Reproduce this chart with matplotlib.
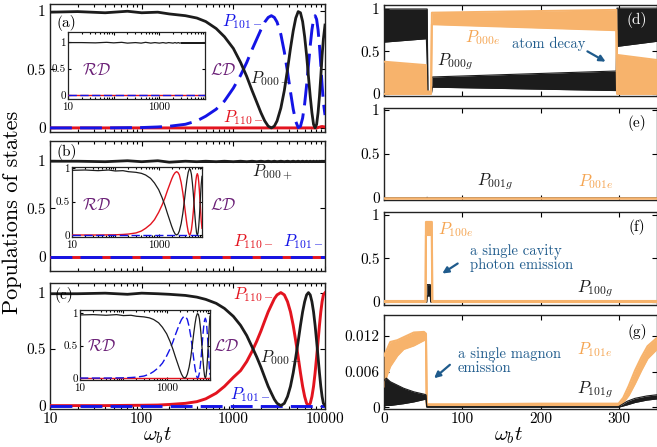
import matplotlib
matplotlib.use('Agg')
import matplotlib.pyplot as plt
import numpy as np
from matplotlib.ticker import LogLocator, NullFormatter

plt.rcParams['font.family'] = ['cmr10', 'DejaVu Serif']
plt.rcParams['mathtext.fontset'] = 'cm'
plt.rcParams['axes.formatter.use_mathtext'] = True
plt.rcParams['axes.unicode_minus'] = False

W, H = 657, 447

# ------------------------------------------------------------------ data
# left column: time grid (omega_b t, log axis)
T_LEFT = [10, 20, 40, 70, 100, 150, 200, 300, 400, 500, 650, 800, 1000, 1200,
          1400, 1600, 1800, 2000, 2200, 2400, 2600, 2800, 3000, 3300, 3600,
          3900, 4200, 4500, 4800, 5100, 5400, 5700, 6000, 6300, 6600, 6900,
          7200, 7500, 7800, 8100, 8400, 8700, 9000, 9300, 9600, 10000]

# panel (a)
A_P000 = [0.99, 0.995, 0.985, 0.998, 0.985, 0.99, 0.975, 0.96, 0.94, 0.91,
          0.85, 0.78, 0.68, 0.56, 0.44, 0.32, 0.22, 0.13, 0.06, 0.015,
          0.0, 0.015, 0.06, 0.17, 0.32, 0.50, 0.68, 0.83, 0.94, 0.995,
          0.985, 0.91, 0.78, 0.62, 0.44, 0.27, 0.13, 0.03, 0.0, 0.03,
          0.13, 0.27, 0.44, 0.62, 0.76, 0.88]
A_P101 = [0, 0, 0, 0.002, 0.003, 0.008, 0.014, 0.031, 0.06, 0.1,
          0.16, 0.23, 0.34, 0.45, 0.56, 0.67, 0.76, 0.84, 0.905, 0.945,
          0.96, 0.945, 0.905, 0.8, 0.65, 0.48, 0.31, 0.16, 0.055, 0.003,
          0.014, 0.084, 0.207, 0.365, 0.538, 0.703, 0.839, 0.929, 0.96, 0.929,
          0.839, 0.703, 0.538, 0.365, 0.22, 0.11]
A_P110 = [0.0] * 40 + [0.003, 0.006, 0.01, 0.012, 0.01, 0.008]
A_IN_P000 = [0.99, 0.99, 0.985, 0.995, 0.985, 0.995, 0.98, 0.99, 0.98, 0.995,
             0.98, 0.99, 0.98, 0.99, 0.98, 0.99, 0.985, 0.98, 0.99, 0.98,
             0.99, 0.98, 0.985, 0.98, 0.99, 0.98, 0.985, 0.98, 0.99, 0.98,
             0.985, 0.98, 0.985, 0.98, 0.985, 0.98, 0.985, 0.98, 0.985, 0.98,
             0.985, 0.98, 0.985, 0.98, 0.985, 0.98]
A_IN_ZERO = [0.0] * 46
A_IN_BAND_T = [3000, 10000]
A_IN_BAND_LO = [0.965, 0.965]
A_IN_BAND_HI = [0.995, 0.995]

# panel (b)
B_P000 = [0.99, 0.99, 0.985, 0.995, 0.985, 0.995, 0.98, 0.99, 0.985, 0.99,
          0.985, 0.99, 0.985, 0.99, 0.985, 0.99, 0.985, 0.99, 0.985, 0.99,
          0.985, 0.99, 0.985, 0.99, 0.985, 0.99, 0.985, 0.99, 0.985, 0.99,
          0.985, 0.99, 0.985, 0.99, 0.985, 0.99, 0.985, 0.99, 0.985, 0.99,
          0.985, 0.99, 0.985, 0.99, 0.985, 0.99]
B_BAND_T = [400, 10000]
B_BAND_LO = [0.972, 0.972]
B_BAND_HI = [0.997, 0.997]
B_P110 = [0.0] * 46
B_P101 = [0.0] * 46
B_IN_P000 = [0.97, 0.975, 0.965, 0.975, 0.96, 0.965, 0.95, 0.94, 0.925, 0.9,
             0.85, 0.78, 0.68, 0.56, 0.44, 0.32, 0.22, 0.13, 0.06, 0.015,
             0.0, 0.015, 0.06, 0.17, 0.32, 0.50, 0.68, 0.83, 0.94, 0.99,
             0.98, 0.91, 0.78, 0.62, 0.44, 0.27, 0.13, 0.03, 0.0, 0.03,
             0.13, 0.27, 0.44, 0.62, 0.76, 0.88]
B_IN_P110 = [0, 0, 0, 0.002, 0.003, 0.008, 0.014, 0.031, 0.06, 0.1,
             0.16, 0.23, 0.34, 0.45, 0.56, 0.67, 0.76, 0.84, 0.9, 0.935,
             0.95, 0.935, 0.9, 0.79, 0.64, 0.47, 0.3, 0.155, 0.05, 0.003,
             0.014, 0.08, 0.2, 0.35, 0.52, 0.68, 0.81, 0.89, 0.92, 0.89,
             0.8, 0.67, 0.51, 0.35, 0.21, 0.1]
B_IN_P101 = [0.0] * 46

# panel (c)
C_P000 = [0.99, 0.99, 0.995, 0.985, 0.995, 0.99, 0.985, 0.975, 0.96, 0.94,
          0.905, 0.86, 0.79, 0.71, 0.62, 0.52, 0.43, 0.34, 0.25, 0.17,
          0.11, 0.056, 0.02, 0.0, 0.02, 0.08, 0.17, 0.29, 0.43, 0.57,
          0.71, 0.83, 0.92, 0.98, 1.0, 0.98, 0.92, 0.83, 0.71, 0.57,
          0.43, 0.29, 0.17, 0.08, 0.02, 0.002]
C_P110 = [0, 0, 0, 0.002, 0.003, 0.005, 0.01, 0.02, 0.035, 0.06,
          0.11, 0.17, 0.25, 0.31, 0.39, 0.48, 0.57, 0.66, 0.75, 0.83,
          0.89, 0.945, 0.98, 1.0, 0.98, 0.92, 0.83, 0.71, 0.57, 0.43,
          0.29, 0.17, 0.08, 0.02, 0.0, 0.02, 0.08, 0.17, 0.29, 0.43,
          0.57, 0.71, 0.83, 0.92, 0.98, 0.998]
C_P101 = [0.0] * 46
C_IN_P000 = [0.97, 0.975, 0.965, 0.975, 0.96, 0.965, 0.95, 0.94, 0.925, 0.9,
             0.85, 0.78, 0.68, 0.56, 0.44, 0.32, 0.22, 0.13, 0.06, 0.015,
             0.0, 0.015, 0.06, 0.17, 0.32, 0.50, 0.68, 0.83, 0.94, 0.99,
             0.98, 0.91, 0.78, 0.62, 0.44, 0.27, 0.13, 0.03, 0.0, 0.03,
             0.13, 0.27, 0.44, 0.62, 0.8, 0.95]
C_IN_P101 = [0, 0, 0, 0.002, 0.003, 0.008, 0.014, 0.031, 0.06, 0.1,
             0.16, 0.23, 0.34, 0.45, 0.56, 0.67, 0.76, 0.84, 0.9, 0.935,
             0.95, 0.935, 0.9, 0.79, 0.64, 0.47, 0.3, 0.155, 0.05, 0.003,
             0.014, 0.08, 0.2, 0.35, 0.52, 0.68, 0.81, 0.89, 0.92, 0.89,
             0.8, 0.67, 0.51, 0.35, 0.18, 0.05]
C_IN_P110 = [0.0] * 46

# right column (linear omega_b t): band envelopes of fast oscillations
D_T_G = [0, 54, 55, 56, 60.5, 61.5, 296, 297, 348]
D_G_LO = [0.61, 0.65, 0.36, 0.01, 0.01, 0.08, 0.04, 0.56, 0.62]
D_G_HI = [1.0, 1.0, 1.0, 0.02, 0.02, 0.20, 0.27, 1.01, 1.01]
D_T_E = [0, 53.5, 54, 60, 61, 296, 297, 348]
D_E_LO = [0, 0, 0, 0, 0.82, 0.75, 0, 0]
D_E_HI = [0.38, 0.34, 0.03, 0.03, 0.957, 0.99, 0.46, 0.40]

E_T = [0, 54, 55, 56, 348]
E_G = [0.0, 0.0, 0.006, 0.0, 0.0]
E_E = [0.003, 0.003, 0.003, 0.003, 0.003]

F_T_E = [0, 53, 53.5, 61, 61.5, 348]
F_E_LO = [0, 0, 0.77, 0.77, 0, 0]
F_E_HI = [0.012, 0.012, 0.92, 0.92, 0.012, 0.012]
F_T_G = [0, 54.5, 55, 59, 59.5, 298, 300, 302, 348]
F_G_LO = [0, 0, 0.07, 0.07, 0, 0, 0, 0, 0]
F_G_HI = [0.006, 0.006, 0.2, 0.2, 0.006, 0.006, 0.015, 0.006, 0.006]

G_T_E = [0, 4, 8, 17, 25, 38, 51, 53.5, 54.5, 100, 200, 299, 305, 312, 320,
         328, 336, 348]
G_E_LO = [0.0035, 0.0055, 0.0069, 0.0087, 0.0098, 0.0104, 0.0113, 0.0114,
          0.0002, 0.0002, 0.0003, 0.0003, 0.0008, 0.0020, 0.0040, 0.0062,
          0.0082, 0.0098]
G_E_HI = [0.0087, 0.0098, 0.0110, 0.0113, 0.0118, 0.0126, 0.0127, 0.0124,
          0.0005, 0.0005, 0.0006, 0.0006, 0.0016, 0.0036, 0.0062, 0.0084,
          0.0103, 0.0117]
G_T_G = [0, 3, 8, 25, 38, 51, 53.5, 54.5, 299, 310, 320, 335, 348]
G_G_LO = [0.0002, 0.0003, 0.0003, 0.0006, 0.0009, 0.0013, 0.0014, 0.0, 0.0,
          0.0004, 0.0008, 0.0012, 0.0014]
G_G_HI = [0.0045, 0.0049, 0.0043, 0.0032, 0.0026, 0.0022, 0.0021, 0.0001,
          0.0001, 0.0010, 0.0015, 0.0019, 0.0021]

LEFT_XTICKS = [10, 100, 1000, 10000]
LEFT_XTICKLABELS = ['10', '100', '1000', '10000']
INSET_XTICKLABELS = ['10', '', '1000', '']
RIGHT_XTICKS = [0, 100, 200, 300]
G_YTICKS = [0, 0.006, 0.012]
G_YTICKLABELS = ['0', '0.006', '0.012']

# ------------------------------------------------------------------ style
BLACK = '#1c1c1c'
RED = '#e3141f'
BLUE = '#1414e6'
ORANGE = '#f7b36c'
ORANGE_T = '#f5a552'
NAVY = '#1f5b8c'
PURPLE = '#6b2077'
DASH = (7.5, 2.8)

fig = plt.figure(figsize=(W / 100, H / 100), dpi=100)


def add_ax(l, t, r, b, **kw):
    return fig.add_axes([l / W, 1 - b / H, (r - l) / W, (b - t) / H], **kw)


def style(ax, fs=11, major=3.5, minor=2.0):
    ax.tick_params(which='both', direction='in', top=True, right=True,
                   labelsize=fs, width=0.8, pad=3)
    ax.tick_params(which='major', length=major)
    ax.tick_params(which='minor', length=minor)
    for s in ax.spines.values():
        s.set_linewidth(1.0)
        s.set_color('#222222')


def ftext(x, y, s, **kw):
    kw.setdefault('va', 'center')
    kw.setdefault('ha', 'left')
    kw.setdefault('zorder', 30)
    fig.text(x / W, 1 - y / H, s, **kw)


def log_axis(ax, labels):
    ax.set_xscale('log')
    ax.set_xlim(10, 10000)
    ax.set_xticks(LEFT_XTICKS)
    ax.set_xticklabels(labels)
    ax.xaxis.set_minor_locator(LogLocator(base=10, subs=np.arange(2, 10), numticks=20))
    ax.xaxis.set_minor_formatter(NullFormatter())


LEFT_BOXES = [(50, 4, 325, 132), (50, 141, 325, 271), (50, 283, 325, 409)]
LEFT_YLIMS = [(-0.035, 1.06), (-0.15, 1.2), (-0.03, 1.085)]
INSET_BOXES = [(68, 32, 205, 99), (72, 167, 202, 237), (80, 310, 210, 380)]
INSET_YLIMS = [(-0.075, 1.19), (-0.03, 1.02), (-0.03, 1.046)]

main_series = [
    (A_P000, A_P110, A_P101),
    (B_P000, B_P110, B_P101),
    (C_P000, C_P110, C_P101),
]
inset_series = [
    (A_IN_P000, A_IN_ZERO, A_IN_ZERO),
    (B_IN_P000, B_IN_P110, B_IN_P101),
    (C_IN_P000, C_IN_P110, C_IN_P101),
]

for i in range(3):
    ax = add_ax(*LEFT_BOXES[i])
    style(ax)
    log_axis(ax, LEFT_XTICKLABELS if i == 2 else [])
    ax.set_ylim(*LEFT_YLIMS[i])
    ax.set_yticks([0, 0.5, 1])
    ax.set_yticklabels(['0', '0.5', '1'])
    ax.tick_params(axis='x', pad=2.5)
    p000, p110, p101 = main_series[i]
    ax.plot(T_LEFT, p110, color=RED, lw=2.1, zorder=3)
    ax.plot(T_LEFT, p101, color=BLUE, lw=2.1, dashes=DASH, zorder=4)
    ax.plot(T_LEFT, p000, color=BLACK, lw=2.0, zorder=5)
    if i == 1:
        ax.fill_between(B_BAND_T, B_BAND_LO, B_BAND_HI, color=BLACK, lw=0, zorder=5)

    ins = add_ax(*INSET_BOXES[i])
    style(ins, fs=8, major=2.5, minor=1.5)
    log_axis(ins, INSET_XTICKLABELS)
    ins.set_ylim(*INSET_YLIMS[i])
    ins.set_yticks([0, 0.5, 1])
    ins.set_yticklabels(['0', '0.5', '1'])
    ins.tick_params(axis='y', pad=1.5)
    ins.tick_params(axis='x', pad=2.5)
    q000, q110, q101 = inset_series[i]
    ins.plot(T_LEFT, q110, color=RED, lw=1.0, zorder=3)
    ins.plot(T_LEFT, q101, color=BLUE, lw=1.0, dashes=(6, 2.5), zorder=4)
    ins.plot(T_LEFT, q000, color=BLACK, lw=0.9, zorder=5)
    if i == 0:
        ins.fill_between(A_IN_BAND_T, A_IN_BAND_LO, A_IN_BAND_HI, color=BLACK, lw=0, zorder=5)
    for s in ins.spines.values():
        s.set_linewidth(0.9)

# right column
RIGHT_BOXES = [(384, 5, 657, 96), (384, 108, 657, 200), (384, 212, 657, 305), (384, 315, 657, 409)]
RIGHT_YLIMS = [(-0.024, 1.047), (-0.023, 1.023), (-0.034, 1.034), (-0.0003, 0.01555)]


def band(ax, t, lo, hi, color, lw=1.0, z=3):
    ax.fill_between(t, lo, hi, color=color, lw=0, zorder=z)
    ax.plot(t, lo, color=color, lw=lw, zorder=z)
    ax.plot(t, hi, color=color, lw=lw, zorder=z)


raxes = []
for j in range(4):
    ax = add_ax(*RIGHT_BOXES[j])
    style(ax)
    ax.set_xlim(0, 348)
    ax.set_ylim(*RIGHT_YLIMS[j])
    ax.set_xticks(RIGHT_XTICKS)
    ax.set_xticklabels([str(v) for v in RIGHT_XTICKS] if j == 3 else [])
    ax.tick_params(axis='x', pad=2.5)
    if j < 3:
        ax.set_yticks([0, 0.5, 1])
        ax.set_yticklabels(['0', '0.5', '1'])
    else:
        ax.set_yticks(G_YTICKS)
        ax.set_yticklabels(G_YTICKLABELS)
    raxes.append(ax)

axd, axe, axf, axg = raxes
band(axd, D_T_G, D_G_LO, D_G_HI, BLACK, lw=0.8, z=3)
band(axd, D_T_E, D_E_LO, D_E_HI, ORANGE, lw=1.4, z=4)
axe.plot(E_T, E_G, color=BLACK, lw=1.0, zorder=3)
axe.plot(E_T, E_E, color=ORANGE, lw=1.8, zorder=4)
band(axf, F_T_G, F_G_LO, F_G_HI, BLACK, lw=0.8, z=3)
band(axf, F_T_E, F_E_LO, F_E_HI, ORANGE, lw=1.5, z=4)
band(axg, G_T_E, G_E_LO, G_E_HI, ORANGE, lw=1.5, z=3)
band(axg, G_T_G, G_G_LO, G_G_HI, BLACK, lw=0.8, z=4)

# ------------------------------------------------------------------ texts
LFS = 12
ftext(56, 23, '(a)', fontsize=11)
ftext(222, 22, r'$P_{101-}$', color=BLUE, fontsize=LFS)
ftext(250, 79, r'$P_{000+}$', color=BLACK, fontsize=LFS)
ftext(223, 118, r'$P_{110-}$', color=RED, fontsize=LFS)
ftext(56, 152, '(b)', fontsize=11)
ftext(252, 172, r'$P_{000+}$', color=BLACK, fontsize=LFS)
ftext(233, 242, r'$P_{110-}$', color=RED, fontsize=LFS)
ftext(283, 242, r'$P_{101-}$', color=BLUE, fontsize=LFS)
ftext(54, 295, '(c)', fontsize=11)
ftext(233, 295, r'$P_{110-}$', color=RED, fontsize=LFS)
ftext(260, 358, r'$P_{000+}$', color=BLACK, fontsize=LFS)
ftext(230, 395, r'$P_{101-}$', color=BLUE, fontsize=LFS)
for (xr, xl, yy) in [(82, 210, 70), (82, 210, 205), (87, 213, 346)]:
    ftext(xr, yy, r'$\mathcal{RD}$', color=PURPLE, fontsize=12)
    ftext(xl, yy, r'$\mathcal{LD}$', color=PURPLE, fontsize=12)

ftext(465, 38, r'$P_{000e}$', color=ORANGE_T, fontsize=LFS)
ftext(437, 62, r'$P_{000g}$', color=BLACK, fontsize=LFS)
ftext(512, 44, 'atom decay', color=NAVY, fontsize=10.5)
ftext(477, 182, r'$P_{001g}$', color=BLACK, fontsize=LFS)
ftext(578, 182, r'$P_{001e}$', color=ORANGE_T, fontsize=LFS)
ftext(438, 230, r'$P_{100e}$', color=ORANGE_T, fontsize=LFS)
ftext(470, 258, 'a single cavity\nphoton emission', color=NAVY, fontsize=10.5, linespacing=1.05)
ftext(577, 289, r'$P_{100g}$', color=BLACK, fontsize=LFS)
ftext(577, 350, r'$P_{101e}$', color=ORANGE_T, fontsize=LFS)
ftext(458, 361, 'a single magnon\nemission', color=NAVY, fontsize=10.5, linespacing=1.05)
ftext(577, 390, r'$P_{101g}$', color=BLACK, fontsize=LFS)
ftext(637, 20, '(d)', color='white', fontsize=11, ha='center')
ftext(637, 123, '(e)', fontsize=11, ha='center')
ftext(637, 227, '(f)', fontsize=11, ha='center')
ftext(637, 332, '(g)', fontsize=11, ha='center')

for (x0, y0, x1, y1) in [(585, 50, 608, 63), (460, 262, 440, 275), (452, 363, 432, 380)]:
    fig.add_artist(matplotlib.patches.FancyArrowPatch(
        (x0 / W, 1 - y0 / H), (x1 / W, 1 - y1 / H), transform=fig.transFigure,
        arrowstyle='-|>', mutation_scale=9, color=NAVY, lw=1.6, zorder=30))

ftext(158, 436, r'$\omega_b t$', fontsize=15, ha='center')
ftext(509, 436, r'$\omega_b t$', fontsize=15, ha='center')
ftext(12, 212, 'Populations of states', fontsize=16, ha='center', rotation=90)

fig.savefig('out.png', dpi=100)
